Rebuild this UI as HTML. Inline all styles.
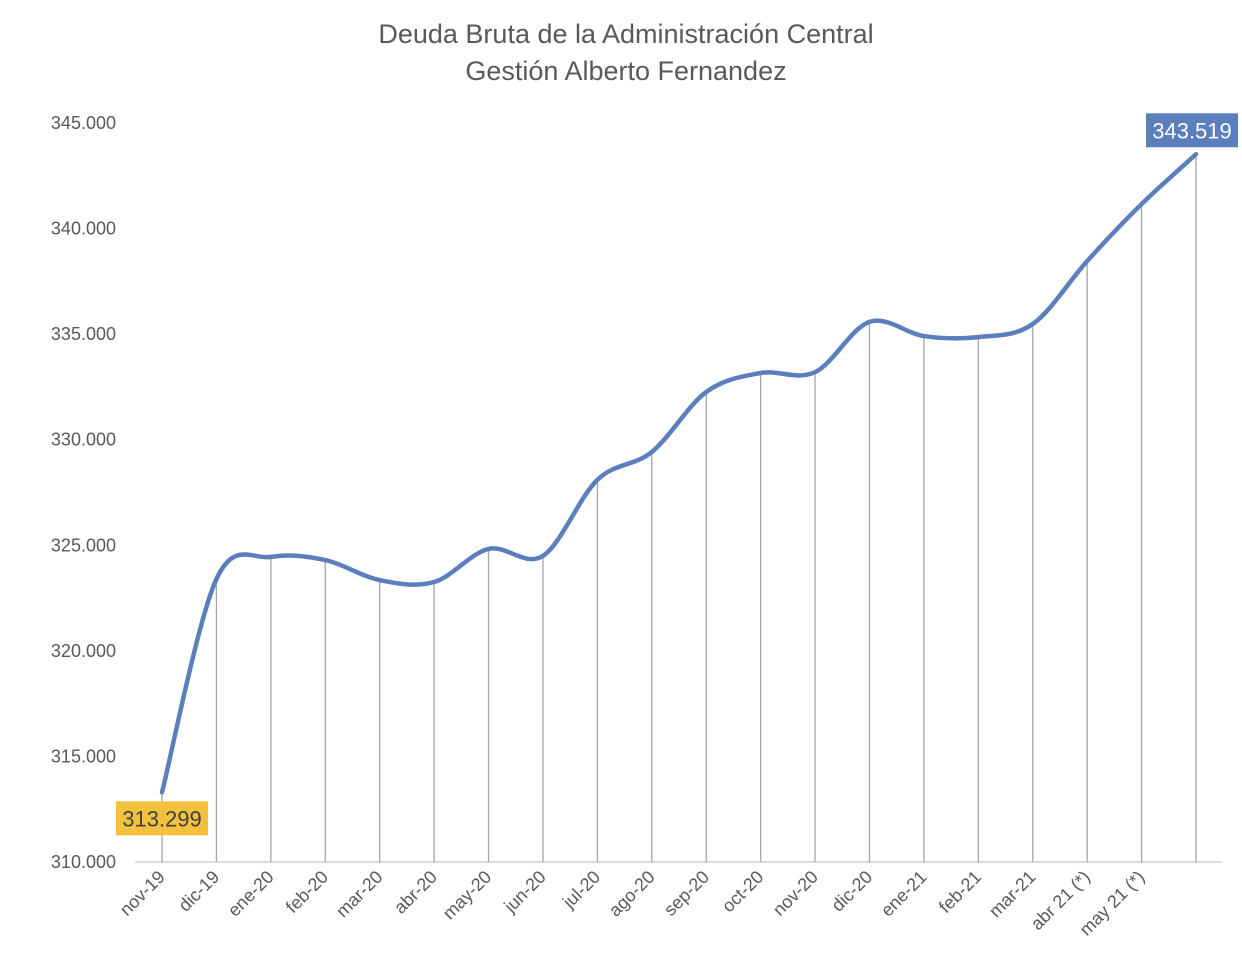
<!DOCTYPE html>
<html><head><meta charset="utf-8"><style>
body{margin:0;background:#fff;font-family:"Liberation Sans",sans-serif}
svg text{font-family:"Liberation Sans",sans-serif;fill:#595959}
</style></head><body>
<svg id="c" width="1242" height="967">
<text x="626" y="43" text-anchor="middle" font-size="27">Deuda Bruta de la Administración Central</text>
<text x="626" y="80" text-anchor="middle" font-size="27">Gestión Alberto Fernandez</text>
<g id="g"></g>
</svg>
<script>
const categories=["nov-19","dic-19","ene-20","feb-20","mar-20","abr-20","may-20","jun-20","jul-20","ago-20","sep-20","oct-20","nov-20","dic-20","ene-21","feb-21","mar-21","abr 21 (*)","may 21 (*)",""];
const values=[313299,323400,324450,324300,323350,323260,324830,324500,328100,329420,332260,333160,333200,335580,334910,334860,335480,338460,341160,343519];
const yTicks=[310000,315000,320000,325000,330000,335000,340000,345000];
const yTickLabels=["310.000","315.000","320.000","325.000","330.000","335.000","340.000","345.000"];
const NS="http://www.w3.org/2000/svg",g=document.getElementById('g');
const x0=162,x1=1196,yMin=310000,yMax=345000,py0=862,py1=123;
const X=i=>x0+i*(x1-x0)/(categories.length-1);
const Y=v=>py0-(v-yMin)/(yMax-yMin)*(py0-py1);
function el(t,a){const e=document.createElementNS(NS,t);for(const k in a)e.setAttribute(k,a[k]);g.appendChild(e);return e;}
yTicks.forEach((t,i)=>{const e=el('text',{x:116,y:Y(t)+6,'text-anchor':'end','font-size':18});e.textContent=yTickLabels[i];

});
const ax=el('line',{x1:135,x2:1222,y1:py0,y2:py0,stroke:'#d0d0d0','stroke-width':1.5});


values.forEach((v,i)=>{const l=el('line',{x1:X(i),x2:X(i),y1:Y(v),y2:py0,stroke:'#a6a6a6','stroke-width':1.3});

});
categories.forEach((c,i)=>{if(!c)return;const t=el('text',{x:X(i)+4,y:878,'text-anchor':'end','font-size':18,transform:`rotate(-45 ${X(i)+4} 878)`});t.textContent=c;

});
const pts=values.map((v,i)=>[X(i),Y(v)]);
let d=`M${pts[0][0]},${pts[0][1]}`;
for(let i=0;i<pts.length-1;i++){const p0=pts[Math.max(0,i-1)],p1=pts[i],p2=pts[i+1],p3=pts[Math.min(pts.length-1,i+2)];
const s=1/6;d+=`C${p1[0]+(p2[0]-p0[0])*s},${p1[1]+(p2[1]-p0[1])*s} ${p2[0]-(p3[0]-p1[0])*s},${p2[1]-(p3[1]-p1[1])*s} ${p2[0]},${p2[1]}`;}
const ln=el('path',{d:d,fill:'none',stroke:'#5b7fbd','stroke-width':4.5,'stroke-linecap':'round'});


function lab(i,bg,fg,name){const v=values[i];const txt=v.toLocaleString('de-DE');
const cx=i===0?X(i):X(i)-4,cy=i===0?Y(v)+26:Y(v)-24;
const r=el('rect',{x:cx-46,y:cy-17,width:92,height:34,fill:bg});


const t=el('text',{x:cx,y:cy+8,'text-anchor':'middle','font-size':22});t.textContent=txt;t.style.fill=fg;

}
lab(0,'#f2c23e','#404040','first-value-label');
lab(values.length-1,'#5b7fbd','#ffffff','last-value-label');
</script>
</body></html>
